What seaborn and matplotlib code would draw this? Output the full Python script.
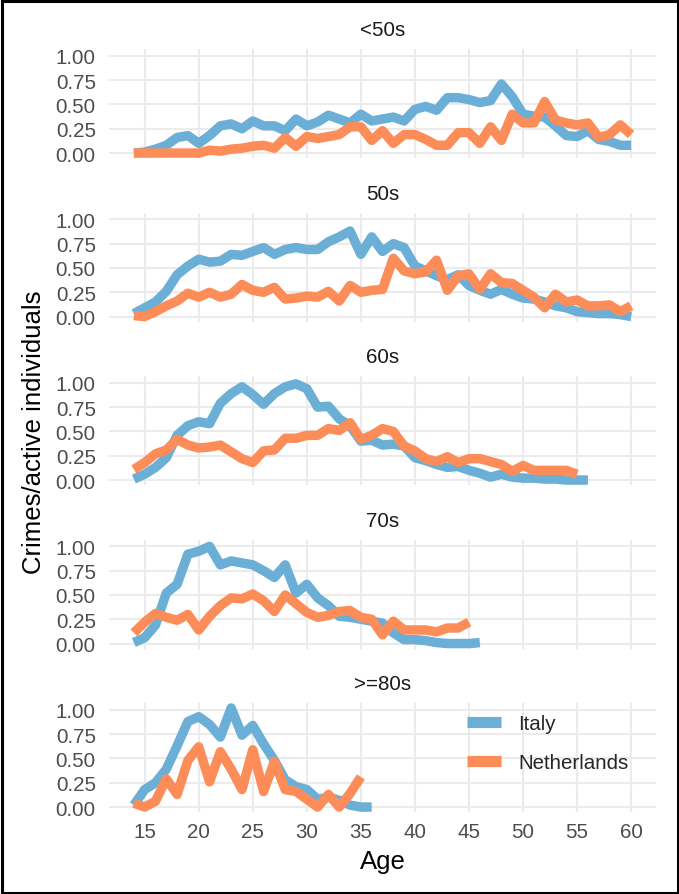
import numpy as np
import pandas as pd
import matplotlib
matplotlib.use("Agg")
import matplotlib.pyplot as plt
import seaborn as sns
from matplotlib.patches import Rectangle

# ---------------- data ----------------
cohorts = ["<50s", "50s", "60s", "70s", ">=80s"]
countries = ["Italy", "Netherlands"]
colors = ["#6BAED6", "#FC8D59"]

ages_lt50_it = list(range(14, 61))
italy_lt50 = [0.00, 0.01, 0.04, 0.08, 0.16, 0.18, 0.10, 0.18, 0.28, 0.30,
              0.25, 0.33, 0.28, 0.28, 0.23, 0.35, 0.28, 0.32, 0.39, 0.35,
              0.31, 0.40, 0.33, 0.35, 0.37, 0.33, 0.45, 0.48, 0.44, 0.57,
              0.57, 0.55, 0.52, 0.54, 0.71, 0.58, 0.40, 0.38, 0.37, 0.28,
              0.18, 0.17, 0.23, 0.14, 0.12, 0.08, 0.08]
ages_lt50_nl = list(range(14, 61))
nl_lt50 = [0.00, 0.00, 0.00, 0.00, 0.00, 0.00, 0.00, 0.03, 0.02, 0.04,
           0.05, 0.07, 0.08, 0.05, 0.16, 0.07, 0.17, 0.15, 0.17, 0.19,
           0.27, 0.27, 0.13, 0.23, 0.10, 0.19, 0.19, 0.14, 0.08, 0.08,
           0.21, 0.21, 0.10, 0.27, 0.13, 0.40, 0.31, 0.31, 0.53, 0.34,
           0.31, 0.29, 0.31, 0.16, 0.19, 0.29, 0.19]

ages_50s_it = list(range(14, 61))
italy_50s = [0.03, 0.09, 0.15, 0.26, 0.43, 0.52, 0.59, 0.56, 0.57, 0.64,
             0.63, 0.67, 0.71, 0.64, 0.69, 0.71, 0.69, 0.69, 0.77, 0.82,
             0.88, 0.64, 0.82, 0.67, 0.75, 0.71, 0.52, 0.47, 0.42, 0.38,
             0.43, 0.32, 0.27, 0.23, 0.28, 0.23, 0.19, 0.18, 0.15, 0.11,
             0.09, 0.05, 0.04, 0.03, 0.03, 0.02, 0.00]
ages_50s_nl = list(range(14, 61))
nl_50s = [0.01, 0.00, 0.05, 0.11, 0.16, 0.24, 0.20, 0.25, 0.20, 0.23,
          0.33, 0.27, 0.25, 0.30, 0.18, 0.19, 0.21, 0.20, 0.26, 0.16,
          0.32, 0.25, 0.27, 0.28, 0.60, 0.47, 0.44, 0.46, 0.58, 0.27,
          0.42, 0.44, 0.28, 0.44, 0.35, 0.34, 0.27, 0.20, 0.09, 0.23,
          0.15, 0.17, 0.11, 0.11, 0.12, 0.05, 0.11]

ages_60s_it = list(range(14, 57))
italy_60s = [0.01, 0.06, 0.13, 0.23, 0.46, 0.56, 0.60, 0.58, 0.79, 0.89,
             0.96, 0.88, 0.78, 0.89, 0.96, 0.99, 0.94, 0.75, 0.76, 0.63,
             0.56, 0.40, 0.41, 0.36, 0.37, 0.35, 0.23, 0.20, 0.16, 0.13,
             0.14, 0.10, 0.07, 0.03, 0.06, 0.03, 0.02, 0.02, 0.01, 0.01,
             0.00, 0.00, 0.00]
ages_60s_nl = list(range(14, 56))
nl_60s = [0.11, 0.18, 0.27, 0.31, 0.42, 0.36, 0.33, 0.34, 0.36, 0.29,
          0.22, 0.18, 0.30, 0.31, 0.43, 0.43, 0.46, 0.46, 0.53, 0.51,
          0.59, 0.42, 0.46, 0.53, 0.50, 0.35, 0.30, 0.22, 0.19, 0.24,
          0.18, 0.22, 0.22, 0.19, 0.16, 0.09, 0.15, 0.10, 0.10, 0.10,
          0.10, 0.06]

ages_70s_it = list(range(14, 47))
italy_70s = [0.01, 0.06, 0.19, 0.52, 0.61, 0.92, 0.95, 1.00, 0.81, 0.85,
             0.83, 0.81, 0.75, 0.68, 0.81, 0.52, 0.61, 0.47, 0.39, 0.28,
             0.27, 0.25, 0.23, 0.21, 0.11, 0.04, 0.04, 0.03, 0.01, 0.00,
             0.00, 0.00, 0.01]
ages_70s_nl = list(range(14, 46))
nl_70s = [0.11, 0.22, 0.31, 0.27, 0.24, 0.30, 0.14, 0.28, 0.39, 0.47,
          0.46, 0.51, 0.44, 0.33, 0.50, 0.41, 0.32, 0.27, 0.29, 0.33,
          0.34, 0.27, 0.25, 0.09, 0.23, 0.14, 0.14, 0.14, 0.12, 0.16,
          0.16, 0.22]

ages_80s_it = list(range(14, 37))
italy_80s = [0.02, 0.18, 0.25, 0.39, 0.63, 0.88, 0.93, 0.85, 0.72, 1.02,
             0.74, 0.84, 0.65, 0.48, 0.28, 0.21, 0.18, 0.08, 0.10, 0.07,
             0.02, 0.00, 0.00]
ages_80s_nl = list(range(14, 36))
nl_80s = [0.04, 0.00, 0.06, 0.29, 0.13, 0.48, 0.62, 0.26, 0.57, 0.39,
          0.18, 0.59, 0.16, 0.47, 0.18, 0.16, 0.08, 0.00, 0.13, 0.00,
          0.14, 0.31]

x_ticks = [15, 20, 25, 30, 35, 40, 45, 50, 55, 60]
y_ticks = [0.0, 0.25, 0.5, 0.75, 1.0]
y_ticklabels = ["0.00", "0.25", "0.50", "0.75", "1.00"]

series = {
    "<50s": [(ages_lt50_it, italy_lt50), (ages_lt50_nl, nl_lt50)],
    "50s": [(ages_50s_it, italy_50s), (ages_50s_nl, nl_50s)],
    "60s": [(ages_60s_it, italy_60s), (ages_60s_nl, nl_60s)],
    "70s": [(ages_70s_it, italy_70s), (ages_70s_nl, nl_70s)],
    ">=80s": [(ages_80s_it, italy_80s), (ages_80s_nl, nl_80s)],
}

rows = []
for c in cohorts:
    for country, (ages, vals) in zip(countries, series[c]):
        for a, v in zip(ages, vals):
            rows.append({"cohort": c, "Country": country, "Age": a, "value": v})
df = pd.DataFrame(rows)

# ---------------- plot ----------------
sns.set_theme(style="white")
plt.rcParams["font.family"] = ["Liberation Sans", "DejaVu Sans"]

W, H = 679, 895
fig = plt.figure(figsize=(W / 100, H / 100), dpi=100)

ylo, yhi = df["value"].min(), df["value"].max()
ypad = 0.05 * (yhi - ylo)
xlo, xhi = df["Age"].min(), df["Age"].max()
xpad = 0.05 * (xhi - xlo)

left_px, right_px = 109, 656
ax_h_px = 109
tick_color = "#4D4D4D"
grid_color = "#EBEBEB"

axes = []
for k, c in enumerate(cohorts):
    top_px = 50 + 163.5 * k
    ax = fig.add_axes([left_px / W, 1 - (top_px + ax_h_px) / H,
                       (right_px - left_px) / W, ax_h_px / H])
    sub = df[df["cohort"] == c]
    sns.lineplot(data=sub, x="Age", y="value", hue="Country",
                 hue_order=countries, palette=colors, linewidth=6.8,
                 errorbar=None, ax=ax, legend=(k == len(cohorts) - 1),
                 solid_capstyle="butt", solid_joinstyle="round")
    ax.set_xlim(xlo - xpad, xhi + xpad)
    ax.set_ylim(ylo - ypad, yhi + ypad)
    ax.set_xticks(x_ticks)
    ax.set_yticks(y_ticks)
    ax.set_yticklabels(y_ticklabels)
    ax.grid(True, color=grid_color, linewidth=1.5)
    ax.set_axisbelow(True)
    for s in ax.spines.values():
        s.set_visible(False)
    ax.tick_params(axis="both", length=0, labelsize=14.8, labelcolor=tick_color)
    ax.tick_params(axis="y", pad=9.5)
    ax.tick_params(axis="x", pad=7)
    ax.set_xlabel("")
    ax.set_ylabel("")
    if k < len(cohorts) - 1:
        ax.set_xticklabels([])
    ax.text(0.5, 1 + 19 / ax_h_px, c, transform=ax.transAxes, ha="center",
            va="center", fontsize=14.8, color="#1A1A1A")
    axes.append(ax)

# legend inside bottom panel
ax = axes[-1]
handles, labels = ax.get_legend_handles_labels()
ax.get_legend().remove()
leg = ax.legend(handles, labels, loc="center left",
                bbox_to_anchor=(467 / W, 1 - 744 / H),
                bbox_transform=fig.transFigure, frameon=False,
                fontsize=14.8, handlelength=1.66, handletextpad=0.83,
                labelspacing=0.95, borderpad=0, borderaxespad=0)
for ln in leg.get_lines():
    ln.set_linewidth(8)
    ln.set_solid_capstyle("butt")

fig.text(382.5 / W, 1 - 862 / H, "Age", ha="center", va="center",
         fontsize=18.5, color="black")
fig.text(34 / W, 1 - 432 / H, "Crimes/active individuals", ha="center",
         va="center", rotation=90, fontsize=18.5, color="black")

fig.patches.append(Rectangle((1.5 / W, 1.5 / H), 1 - 3 / W, 1 - 3 / H,
                             transform=fig.transFigure, fill=False,
                             edgecolor="black", linewidth=2.2))

fig.savefig("out.png", dpi=100)
